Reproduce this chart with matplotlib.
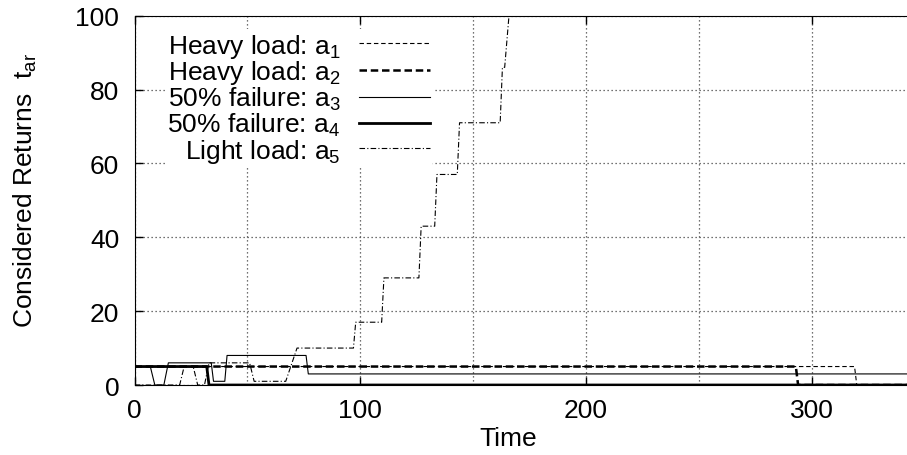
import matplotlib
matplotlib.use('Agg')
import matplotlib.pyplot as plt
from matplotlib.ticker import MultipleLocator

plt.rcParams['font.family'] = ['Liberation Sans', 'DejaVu Sans']
plt.rcParams['mathtext.fontset'] = 'custom'
plt.rcParams['mathtext.rm'] = 'Liberation Sans'
plt.rcParams['mathtext.default'] = 'regular'

# データ
t_a1 = [0, 319, 320, 350]
v_a1 = [5, 5, 0, 0]

t_a2 = [0, 293, 294, 350]
v_a2 = [5, 5, 0, 0]

t_a3 = [0, 7, 9, 13, 15, 34, 35, 40, 41, 76, 77, 350]
v_a3 = [5, 5, 0, 0, 6, 6, 1, 1, 8, 8, 3, 3]

t_a4 = [0, 32, 33, 350]
v_a4 = [5, 5, 0, 0]

t_a5 = [0, 20, 22, 26, 28, 31, 33, 51, 53, 67, 72, 97, 98, 109.5, 110.5,
        126, 127, 133, 134, 143, 144, 162, 163, 164, 167]
v_a5 = [0, 0, 5, 5, 0, 0, 6, 6, 1, 1, 10, 10, 17, 17, 29,
        29, 43, 43, 57, 57, 71, 71, 86, 86, 108]

labels = ['Heavy load: a$_{1}$', 'Heavy load: a$_{2}$', '50% failure: a$_{3}$',
          '50% failure: a$_{4}$', 'Light load: a$_{5}$']

FS = 19

fig = plt.figure(figsize=(9.07, 4.56), dpi=100)
ax = fig.add_axes([0.1483, 0.1535, 0.87, 0.81])

ax.plot(t_a1, v_a1, color='black', lw=0.8, dashes=(4, 2.5), label=labels[0])
ax.plot(t_a2, v_a2, color='black', lw=1.8, dashes=(3, 1.5), label=labels[1])
ax.plot(t_a3, v_a3, color='black', lw=0.8, label=labels[2])
ax.plot(t_a4, v_a4, color='black', lw=2.0, label=labels[3])
ax.plot(t_a5, v_a5, color='black', lw=0.8, dashes=(5, 2, 1, 2), label=labels[4])

# 軸範囲（右端は画像外まで続く）
ax.set_xlim(0, 349.6)
ax.set_ylim(0, 100)
ax.xaxis.set_major_locator(MultipleLocator(100))
ax.xaxis.set_minor_locator(MultipleLocator(50))
ax.yaxis.set_major_locator(MultipleLocator(20))

ax.tick_params(which='major', direction='in', length=6, width=1,
               top=True, right=True, labelsize=FS, pad=9)
ax.tick_params(axis='y', pad=11)
ax.tick_params(which='minor', length=0)

# グリッド（点線）
ax.grid(True, which='both', axis='x', color='#444444', lw=0.9, linestyle=(0, (1, 2.2)))
ax.grid(True, which='major', axis='y', color='#444444', lw=0.9, linestyle=(0, (1, 2.2)))
ax.set_axisbelow(True)

ax.set_xlabel('Time', fontsize=FS)
ax.set_ylabel('Considered Returns  t$_{ar}$', fontsize=FS)
ax.xaxis.set_label_coords(0.473, -0.112)
ax.yaxis.set_label_coords(-0.1215, 0.53)

leg = ax.legend(loc='upper right', fontsize=FS, frameon=True, markerfirst=False,
                handlelength=2.7, handletextpad=0.7, labelspacing=-0.05,
                borderaxespad=0.0, borderpad=0.1, bbox_to_anchor=(0.3783, 0.964))
leg.get_frame().set_edgecolor('none')
leg.get_frame().set_facecolor('white')
leg.get_frame().set_alpha(1.0)
# テキストを右寄せ
for col in leg._legend_handle_box.get_children():
    col.align = 'right'

fig.savefig('out.png', dpi=100)
